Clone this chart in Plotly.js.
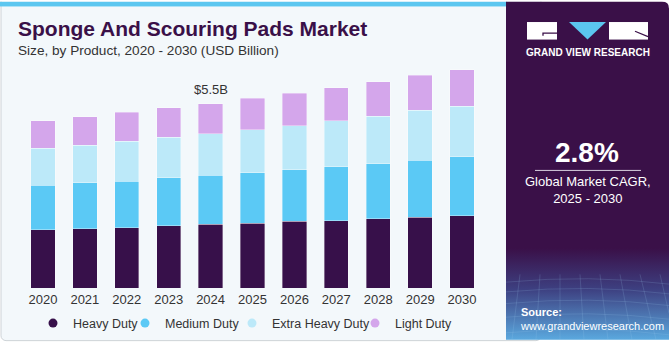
<!DOCTYPE html>
<html>
<head>
<meta charset="utf-8">
<script src="https://cdn.plot.ly/plotly-3.0.1.min.js"></script>
<style>html,body{margin:0;padding:0;background:#fff;}#chart{width:671px;height:350px;}</style>
</head>
<body>
<div id="chart"></div>
<script>
// ---- data ----
const years = ['2020','2021','2022','2023','2024','2025','2026','2027','2028','2029','2030'];
const heavyDuty = [1.73,1.77,1.80,1.85,1.90,1.93,1.99,2.00,2.06,2.11,2.15];
const mediumDuty = [1.34,1.37,1.39,1.44,1.46,1.50,1.53,1.61,1.64,1.70,1.76];
const extraHeavyDuty = [1.09,1.11,1.18,1.20,1.24,1.29,1.32,1.37,1.42,1.49,1.51];
const lightDuty = [0.83,0.85,0.87,0.89,0.90,0.94,0.97,0.99,1.03,1.04,1.09];
const seriesNames = ['Heavy Duty','Medium Duty','Extra Heavy Duty','Light Duty'];
const calloutYear = '2024';
const calloutValue = 5.5;
const calloutLabel = '$5.5B';
const cagrText = '2.8%';
const cagrLabel = 'Global Market CAGR,<br>2025 - 2030';

// ---- style ----
const colors = ['#37104a','#5bc9f5','#bce9f9','#d4a6eb'];
const FONT = 'Liberation Sans, Arial, sans-serif';
const W = 671, H = 350;
const M = {l:22, r:188, t:61, b:56};
const PW = W - M.l - M.r, PH = H - M.t - M.b;
const X = px => (px - M.l) / PW;
const Y = py => (H - M.b - py) / PH;

const seriesValues = [heavyDuty, mediumDuty, extraHeavyDuty, lightDuty];

const traces = [];
seriesValues.forEach((vals, i) => {
  traces.push({
    type: 'bar', x: years, y: vals, name: seriesNames[i],
    marker: {color: colors[i], line: {color: 'rgba(255,255,255,0.45)', width: 0.8}},
    showlegend: false
  });
});
// legend entries (circle symbols), on a hidden overlay axis so they don't affect the bars
const legendX = [54, 146, 253, 376];
seriesNames.forEach((n, i) => {
  traces.push({
    type: 'scatter', mode: 'markers', x: [years[0]], y: [null], name: n,
    xaxis: 'x2', yaxis: 'y2',
    marker: {color: colors[i], size: 9, symbol: 'circle'},
    legend: i === 0 ? 'legend' : 'legend' + (i + 1), showlegend: true
  });
});

const svg = `<svg xmlns='http://www.w3.org/2000/svg' width='671' height='350' viewBox='0 0 671 350'>
<defs><linearGradient id='g' x1='0' y1='0' x2='0' y2='1'>
<stop offset='0' stop-color='#3a1048'/><stop offset='0.73' stop-color='#3a1048'/>
<stop offset='0.85' stop-color='#3d3f80'/><stop offset='1' stop-color='#5aa8de'/></linearGradient></defs>
<rect x='1' y='-10' width='540' height='358' rx='5' fill='#f3f8fb' stroke='#cdd2d6' stroke-width='1'/>
<rect x='0' y='0' width='507' height='5' fill='#5cc7f0'/>
<path d='M506 0 H662 Q669 0 669 7 V347 H506 Z' fill='url(#g)'/>
<g stroke='#9fc8ee' stroke-opacity='0.25' stroke-width='0.7' fill='none'>
<path d='M506 288 Q590 280 669 290'/><path d='M506 298 Q590 290 669 300'/><path d='M506 310 Q590 302 669 312'/>
<path d='M506 324 Q590 316 669 326'/><path d='M506 340 Q590 332 669 342'/>
<path d='M520 280 L512 347'/><path d='M540 280 L536 347'/><path d='M560 280 L560 347'/><path d='M580 280 L584 347'/>
<path d='M600 280 L608 347'/><path d='M620 280 L632 347'/><path d='M640 280 L656 347'/><path d='M660 280 L669 320'/>
</g>
<rect x='527' y='21' width='30' height='18' fill='#ffffff'/>
<path d='M543 35 V32.5 H557' stroke='#3a1048' stroke-width='1.3' fill='none'/>
<polygon points='569,21 606,21 587.5,39' fill='#5bc6ef'/>
<rect x='609' y='21' width='39' height='18' fill='#ffffff'/>
<path d='M635 30.5 L648 36' stroke='#3a1048' stroke-width='1.2'/>
</svg>`;

const layout = {
  width: W, height: H, margin: M,
  paper_bgcolor: '#ffffff', plot_bgcolor: 'rgba(0,0,0,0)',
  font: {family: FONT, color: '#333333'},
  barmode: 'stack', bargap: 0.42,
  xaxis: {type: 'category', categoryarray: years, categoryorder: 'array', showgrid: false, zeroline: false,
          showline: false, ticks: '', ticklabelstandoff: 2,
          tickfont: {size: 13, color: '#333333', family: FONT}, fixedrange: true},
  yaxis: {range: [0, PH * 0.02905], visible: false, fixedrange: true},
  xaxis2: {overlaying: 'x', visible: false, type: 'category'},
  yaxis2: {overlaying: 'y', visible: false, range: [0, 1]},
  images: [{source: 'data:image/svg+xml;charset=utf-8,' + encodeURIComponent(svg),
            xref: 'paper', yref: 'paper', x: X(0), y: Y(0), sizex: W / PW, sizey: H / PH,
            xanchor: 'left', yanchor: 'top', sizing: 'stretch', layer: 'below'}],
  annotations: [
    {text: '<b>Sponge And Scouring Pads Market</b>', xref: 'paper', yref: 'paper', x: X(16), y: Y(28),
     xanchor: 'left', yanchor: 'middle', showarrow: false, font: {size: 21, color: '#3a1048', family: FONT}},
    {text: 'Size, by Product, 2020 - 2030 (USD Billion)', xref: 'paper', yref: 'paper', x: X(16), y: Y(50),
     xanchor: 'left', yanchor: 'middle', showarrow: false, font: {size: 13.6, color: '#333333', family: FONT}},
    {text: calloutLabel, x: years.indexOf(calloutYear), y: calloutValue, xref: 'x', yref: 'y', yanchor: 'bottom', yshift: 5,
     showarrow: false, font: {size: 13, color: '#333333', family: FONT}},
    {text: '<b>GRAND VIEW RESEARCH</b>', xref: 'paper', yref: 'paper', x: X(587.5), y: Y(52),
     xanchor: 'center', yanchor: 'middle', showarrow: false, font: {size: 10, color: '#ffffff', family: FONT}},
    {text: '<b>' + cagrText + '</b>', xref: 'paper', yref: 'paper', x: X(587), y: Y(155),
     xanchor: 'center', yanchor: 'middle', showarrow: false, font: {size: 28, color: '#ffffff', family: FONT}},
    {text: cagrLabel, xref: 'paper', yref: 'paper', x: X(588), y: Y(193),
     xanchor: 'center', yanchor: 'middle', showarrow: false, font: {size: 13, color: '#ffffff', family: FONT}},
    {text: '<b>Source:</b><br>www.grandviewresearch.com', xref: 'paper', yref: 'paper', x: X(518), y: Y(325.5),
     xanchor: 'left', yanchor: 'middle', align: 'left', showarrow: false, font: {size: 11, color: '#ffffff', family: FONT}}
  ],
  shapes: [
    {type: 'line', xref: 'paper', yref: 'paper', x0: X(535), x1: X(641), y0: Y(173.3), y1: Y(173.3),
     line: {color: '#d8d0e0', width: 1}}
  ],
  hovermode: false
};
const legendBase = {orientation: 'h', yref: 'paper', xanchor: 'left', yanchor: 'top', bgcolor: 'rgba(0,0,0,0)',
  font: {size: 12.5, color: '#333333', family: FONT}, itemwidth: 30};
['legend','legend2','legend3','legend4'].forEach((k, i) => {
  layout[k] = Object.assign({}, legendBase, {x: X(legendX[i] - 21), y: Y(315)});
});

Plotly.newPlot('chart', traces, layout, {displayModeBar: false, staticPlot: true});
</script>
</body>
</html>
